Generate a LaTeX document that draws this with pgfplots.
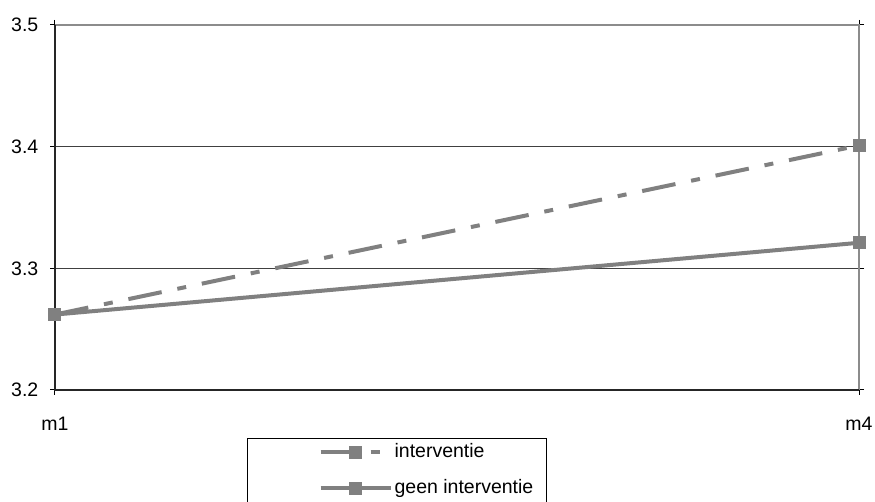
\documentclass[border=0pt]{standalone}
\usepackage{pgfplots}
\pgfplotsset{compat=1.18}
\usepackage{fontspec}
\setmainfont{Liberation Sans}

\definecolor{serie}{RGB}{128,128,128}
\definecolor{kader}{RGB}{140,140,140}

\begin{document}
\fontsize{19.5}{23}\selectfont
\begin{tikzpicture}
\begin{axis}[
  at={(0pt,0pt)}, anchor=south west,
  scale only axis,
  width=804pt, height=365pt,
  xmin=0, xmax=1,
  ymin=3.2, ymax=3.5,
  xtick={0,1}, xticklabels={m1,m4},
  ytick={3.2,3.3,3.4,3.5},
  yticklabel style={/pgf/number format/fixed,/pgf/number format/precision=1,/pgf/number format/fixed zerofill, xshift=-5pt},
  /pgf/number format/assume math mode=true,
  xticklabel style={yshift=-15pt},
  tick label style={font=\fontsize{19.5}{23}\selectfont},
  tick align=outside,
  major tick length=5pt,
  tick style={black, line width=1pt},
  ymajorgrids,
  major grid style={black!75, line width=1pt},
  axis line style={draw=none},
  clip=false,
  legend style={
    at={(0.2388,-0.1315)}, anchor=north west,
    draw=black, line width=1.2pt,
    inner xsep=0pt, inner ysep=3pt,
    row sep=15pt,
    cells={anchor=west},
    nodes={font=\fontsize{19.5}{23}\selectfont},
  },
  legend image code/.code={
    \path (-71pt,0pt);
    \draw[mark repeat=2, mark phase=2, #1]
      plot coordinates {(0pt,0pt) (35pt,0pt) (70pt,0pt)};
  },
]
  % frame: dark left and bottom edges, grey top and right edges
  \draw[kader, line width=2.5pt] (rel axis cs:0,1) -- (rel axis cs:1,1) -- (rel axis cs:1,0);
  \draw[black!85, line width=2pt] (rel axis cs:0,1) -- (rel axis cs:0,0) -- (rel axis cs:1,0);

  \addplot[serie, line width=4pt, dash pattern=on 34pt off 16pt on 9pt off 16pt,
    mark=square*, mark size=4.5pt, mark options={solid}]
    coordinates {(0,3.262) (1,3.401)};
  \addlegendentry{\makebox[150pt][l]{interventie}}

  \addplot[serie, line width=4pt, mark=square*, mark size=4.5pt]
    coordinates {(0,3.262) (1,3.321)};
  \addlegendentry{\makebox[150pt][l]{geen interventie}}

  % blank row: the legend frame runs on past the lower edge
  \addlegendimage{empty legend}
  \addlegendentry{}
\end{axis}
\pgfresetboundingbox
\path[use as bounding box] (-55pt,-112pt) rectangle (820pt,390pt);
\end{tikzpicture}
\end{document}
